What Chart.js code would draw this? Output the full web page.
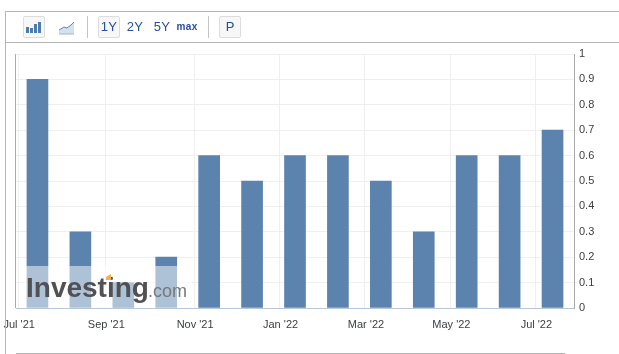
<!DOCTYPE html>
<html>
<head>
<meta charset="utf-8">
<title>Chart</title>
<script src="https://cdn.jsdelivr.net/npm/chart.js@4/dist/chart.umd.min.js"></script>
<style>
  html, body { margin: 0; padding: 0; background: #fff; overflow: hidden; }
  #wrap { position: relative; width: 619px; height: 354px; font-family: "Liberation Sans", Arial, sans-serif; }
  #Chartone { position: absolute; left: 0; top: 0; }
  .rule { position: absolute; background: #b5b5b5; }
  .btn { position: absolute; top: 16px; height: 20px; border: 1px solid #dcdcdc; border-radius: 2px; background: #f7f7f7; }
  .txt { position: absolute; top: 16px; height: 22px; line-height: 22px; text-align: center; color: #24509f; font-size: 13px; }
  .sep { position: absolute; top: 16px; width: 1px; height: 22px; background: #c4c4c4; }
  svg { position: absolute; }
</style>
</head>
<body>
<div id="wrap">
  <canvas id="Chartone" width="619" height="354"></canvas>

  <div class="rule" style="left:5px;top:11px;width:614px;height:1px"></div>
  <div class="rule" style="left:5px;top:42px;width:614px;height:1px"></div>
  <div class="rule" style="left:5px;top:11px;width:1px;height:343px"></div>
  <div class="rule" style="left:16px;top:353px;width:549px;height:1px"></div>

  <div class="btn" style="left:23px;width:20px"></div>
  <svg style="left:26px;top:21px" width="16" height="13">
    <rect x="0" y="6" width="3" height="6" fill="#4d7cad"/>
    <rect x="4" y="7" width="3" height="5" fill="#4d7cad"/>
    <rect x="8" y="3" width="3" height="9" fill="#4d7cad"/>
    <rect x="12" y="1" width="3" height="11" fill="#4d7cad"/>
  </svg>
  <svg style="left:58px;top:21px" width="17" height="14">
    <path d="M1 9 L6 6 L9 7 L13 4 L16 1 L16 13 L1 13 Z" fill="#d5e0ef"/>
    <path d="M1 9 L6 6 L9 7 L13 4 L16 1" fill="none" stroke="#5f86b3"/>
    <path d="M1 13 L16 13" stroke="#9fb5cf"/>
  </svg>
  <div class="sep" style="left:87px"></div>
  <div class="btn" style="left:98px;width:20px"></div>
  <div class="txt" style="left:98px;width:22px;letter-spacing:.3px">1Y</div>
  <div class="txt" style="left:124px;width:22px;letter-spacing:.3px">2Y</div>
  <div class="txt" style="left:151px;width:22px;letter-spacing:.3px">5Y</div>
  <div class="txt" style="left:174px;width:26px;font-size:10px;font-weight:bold;letter-spacing:.4px">max</div>
  <div class="sep" style="left:208px"></div>
  <div class="btn" style="left:219px;width:20px"></div>
  <div class="txt" style="left:219px;width:22px">P</div>
</div>

<script>
// values, one bar per month
const barMonths = [0, 1, 2, 3, 4, 5, 6, 7, 8, 9, 10, 11, 12];
const barValues = [0.9, 0.3, 0.1, 0.2, 0.6, 0.5, 0.6, 0.6, 0.5, 0.3, 0.6, 0.6, 0.7];

const xTickMonths = [-0.45, 1.58, 3.65, 5.64, 7.63, 9.62, 11.6];
const xTickLabels = ["Jul '21", "Sep '21", "Nov '21", "Jan '22", "Mar '22", "May '22", "Jul '22"];
const yTickLabels = ['0', '0.1', '0.2', '0.3', '0.4', '0.5', '0.6', '0.7', '0.8', '0.9', '1'];

const textColor = '#3c4043';
const gridColor = '#efefef';

// left axis line and the washed out logo over the first bars
const watermark = {
  id: 'watermark',
  afterDatasetsDraw(chart) {
    const { ctx, chartArea } = chart;
    ctx.save();
    ctx.fillStyle = '#aaaaaa';
    ctx.fillRect(chartArea.left - 1, chartArea.top, 1, chartArea.height);

    ctx.fillStyle = 'rgba(255,255,255,0.5)';
    ctx.fillRect(chartArea.left + 4, 266, 172, chartArea.bottom - 266);

    ctx.textBaseline = 'alphabetic';
    ctx.textAlign = 'left';
    ctx.font = 'bold 28px "Liberation Sans", Arial, sans-serif';
    ctx.fillStyle = '#505154';
    ctx.fillText('Investing', 26, 297);
    ctx.font = '18px "Liberation Sans", Arial, sans-serif';
    ctx.fillStyle = '#77787b';
    ctx.fillText('.com', 148, 297);

    ctx.fillStyle = '#f6b04a';
    ctx.beginPath();
    ctx.moveTo(106, 277);
    ctx.lineTo(111, 274);
    ctx.lineTo(111, 280);
    ctx.lineTo(106, 280);
    ctx.fill();
    ctx.restore();
  },
};

const ctx = document.getElementById('Chartone').getContext('2d');

new Chart(ctx, {
  type: 'bar',
  data: {
    datasets: [{
      data: barMonths.map((m, i) => ({ x: m, y: barValues[i] })),
      backgroundColor: '#5b83ae',
      borderWidth: 0,
      barThickness: 21,
    }],
  },
  options: {
    responsive: false,
    animation: false,
    layout: { padding: { left: 16, top: 54 } },
    plugins: { legend: { display: false }, tooltip: { enabled: false } },
    scales: {
      x: {
        type: 'linear',
        offset: false,
        min: -0.5,
        max: 12.5,
        afterBuildTicks: (scale) => {
          scale.ticks = xTickMonths.map((value) => ({ value }));
        },
        afterFit: (scale) => {
          scale.height = 46;
          // the first label hangs out to the left, don't let it push the plot over
          scale.paddingLeft = 0;
          scale.paddingRight = 0;
        },
        grid: { color: gridColor, drawTicks: false, offset: false },
        border: { color: '#b7c8dc' },
        ticks: {
          autoSkip: false,
          maxRotation: 0,
          padding: 10,
          labelOffset: 1,
          color: textColor,
          font: { family: '"Liberation Sans", Arial, sans-serif', size: 11 },
          callback: (value, index) => xTickLabels[index],
        },
      },
      y: {
        position: 'right',
        min: 0,
        max: 1,
        afterFit: (scale) => { scale.width = 45; },
        grid: { color: gridColor, drawTicks: false },
        border: { color: '#aaaaaa' },
        ticks: {
          stepSize: 0.1,
          padding: 5,
          color: textColor,
          font: { family: '"Liberation Sans", Arial, sans-serif', size: 11 },
          callback: (value, index) => yTickLabels[index],
        },
      },
    },
  },
  plugins: [watermark],
});
</script>
</body>
</html>
